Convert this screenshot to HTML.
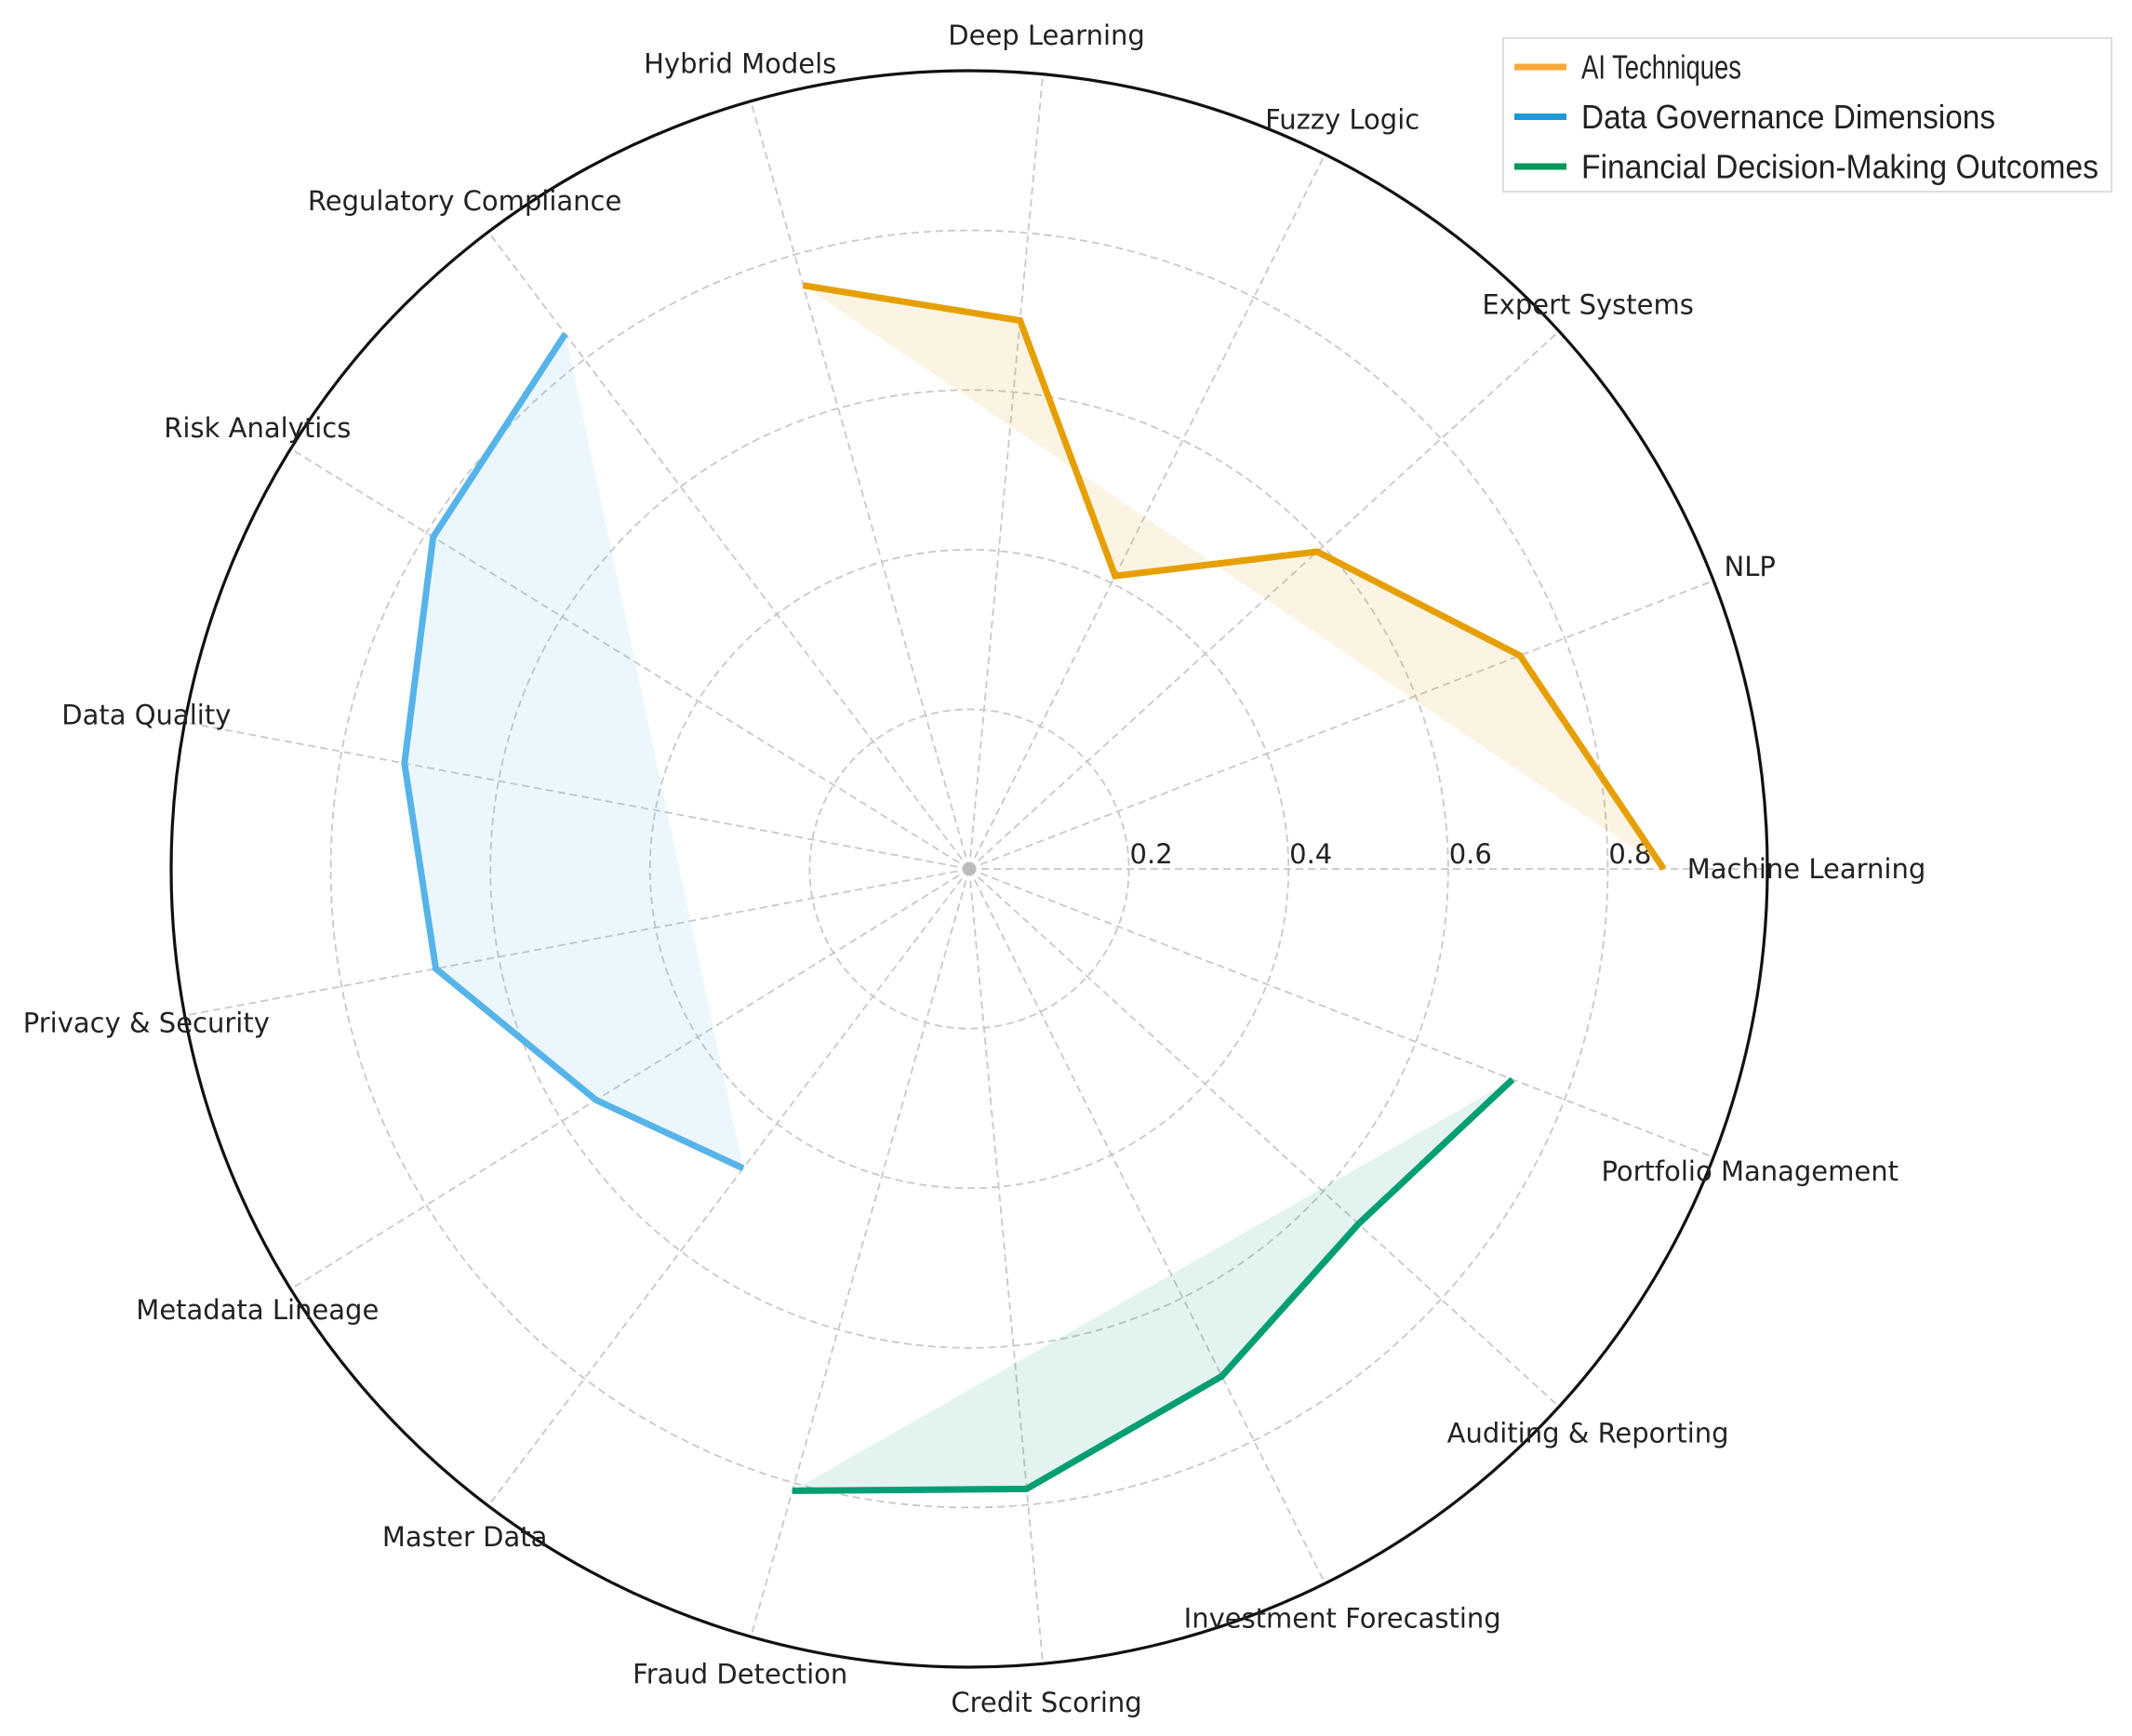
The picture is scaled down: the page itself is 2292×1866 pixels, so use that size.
<!DOCTYPE html>
<html><head><meta charset="utf-8"><style>
html,body{margin:0;padding:0;background:#fff;}
svg{display:block;font-family:"DejaVu Sans","Liberation Sans",sans-serif;}
</style></head><body>
<svg id="chart" width="2292" height="1866" viewBox="0 0 2292 1866" xmlns="http://www.w3.org/2000/svg">
<g id="grid"></g>
<g id="series"></g>
<g id="labels"></g>
<g id="legend"></g>
</svg>
<script>
const categories = ["Machine Learning","NLP","Expert Systems","Fuzzy Logic","Deep Learning","Hybrid Models","Regulatory Compliance","Risk Analytics","Data Quality","Privacy & Security","Metadata Lineage","Master Data","Fraud Detection","Credit Scoring","Investment Forecasting","Auditing & Reporting","Portfolio Management"];
const aiValues = [0.87,0.74,0.59,0.41,0.69,0.76];
const govValues = [0.84,0.79,0.72,0.68,0.55,0.47];
const finValues = [0.81,0.78,0.71,0.66,0.73];
const seriesNames = ["AI Techniques","Data Governance Dimensions","Financial Decision-Making Outcomes"];
const tickValues = [0.2,0.4,0.6,0.8];
const tickLabels = ["0.2","0.4","0.6","0.8"];

const NS="http://www.w3.org/2000/svg";
const cx=1042, cy=934, R=858, rMax=1.0;
const colors=["#E69F00","#56B4E9","#009E73"];
const legendColors=["#F5A93B","#1B9AD6","#05985A"];
const N=categories.length;
function ang(i){return i*2*Math.PI/N;}
function rs(v){return v/rMax*R;}
function pt(i,v){const a=ang(i);return [cx+rs(v)*Math.cos(a), cy-rs(v)*Math.sin(a)];}
function mk(tag,attrs,parent){const e=document.createElementNS(NS,tag);for(const k in attrs)e.setAttribute(k,attrs[k]);parent.appendChild(e);return e;}

const grid=document.getElementById('grid');
tickValues.forEach((t,k)=>{
  const c=mk('circle',{cx:cx,cy:cy,r:rs(t),fill:'none',stroke:'#c8c8c8','stroke-width':1.8,'stroke-dasharray':'8,5'},grid);
  
  
});
for(let i=0;i<N;i++){
  const p=pt(i,rMax);
  const l=mk('line',{x1:cx,y1:cy,x2:p[0],y2:p[1],stroke:'#c8c8c8','stroke-width':1.8,'stroke-dasharray':'8,5'},grid);
  
  
}
const dot=mk('circle',{cx:cx,cy:cy,r:7,fill:'#bbb'},grid);


const outer=mk('circle',{cx:cx,cy:cy,r:R,fill:'none',stroke:'#111','stroke-width':3.2},grid);


tickValues.forEach((t,k)=>{
  const tx=mk('text',{x:cx+rs(t)+24,y:cy-6,'text-anchor':'middle','font-size':29,fill:'#222'},grid);
  tx.textContent=tickLabels[k];
  
  
});

const ser=document.getElementById('series');
const allSeries=[[aiValues,0],[govValues,aiValues.length],[finValues,aiValues.length+govValues.length]];
allSeries.forEach((s,si)=>{
  const pts=s[0].map((v,j)=>pt(s[1]+j,v));
  const str=pts.map(p=>p[0].toFixed(1)+','+p[1].toFixed(1)).join(' ');
  const f=mk('polygon',{points:str,fill:colors[si],'fill-opacity':0.11,stroke:'none'},ser);
  
  
  const l=mk('polyline',{points:str,fill:'none',stroke:colors[si],'stroke-width':7,'stroke-linejoin':'miter'},ser);
  
  
});

const lab=document.getElementById('labels');
categories.forEach((c,i)=>{
  const a=ang(i);
  const t=mk('text',{x:cx+900*Math.cos(a),y:cy-900*Math.sin(a),'text-anchor':'middle','dominant-baseline':'central','font-size':29,fill:'#222'},lab);
  t.textContent=c;
  
  
});

const lg=document.getElementById('legend');
const box=mk('rect',{x:1616,y:41,width:654,height:165,fill:'#fff',stroke:'#ddd','stroke-width':2},lg);


seriesNames.forEach((n,k)=>{
  const y=72+k*53.5;
  const ln=mk('line',{x1:1628,y1:y,x2:1684,y2:y,stroke:legendColors[k],'stroke-width':7},lg);
  
  
  const tx=mk('text',{x:1700,y:y,'dominant-baseline':'central','font-size':36,fill:'#222','font-family':'"Liberation Sans",sans-serif'},lg);
  tx.textContent=n;
  
  
  const w=[172,445,556][k];
  tx.setAttribute('textLength',w);
  tx.setAttribute('lengthAdjust','spacingAndGlyphs');
});
</script>
</body></html>
